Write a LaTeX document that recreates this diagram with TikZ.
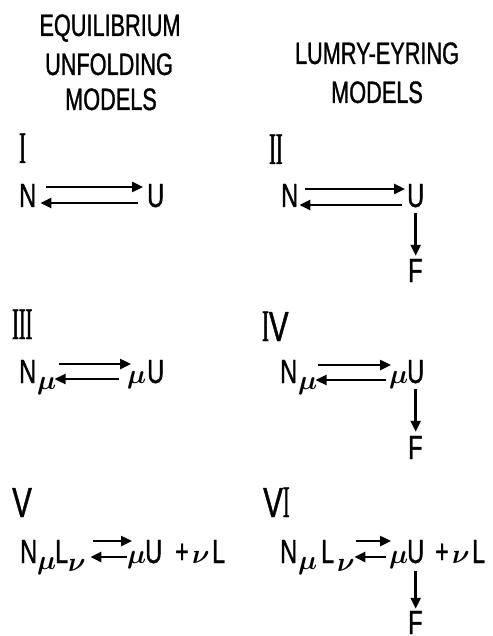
\documentclass[tikz,border=0pt]{standalone}
\usepackage{fontspec}
\usepackage{unicode-math}
\newfontfamily\pf[FakeStretch=0.7,FakeBold=1]{Liberation Sans}
\newfontfamily\rf[FakeStretch=0.45,FakeBold=1]{Liberation Serif}
\usetikzlibrary{arrows.meta,calc}
\newcommand{\numV}{{\pf\fontsize{42}{48}\selectfont V}}
\newcommand{\numI}{{\rf I}}
\newcommand{\gmu}{$\symbfit{\mu}$}
\newcommand{\gnu}{$\symbfit{\nu}$}
\begin{document}
\begin{tikzpicture}[x=1pt,y=-1pt,
  title/.style={inner sep=0, anchor=base, font=\pf\fontsize{31}{36}\selectfont},
  lab/.style={inner sep=0, anchor=base west, font=\pf\fontsize{33.5}{40}\selectfont},
  num/.style={inner sep=0, anchor=base west, font=\rf\fontsize{45}{50}\selectfont},
  grk/.style={inner sep=0, anchor=base west, font=\fontsize{27}{32}\selectfont},
  arr/.style={line width=2.4pt, -{Triangle[length=11pt,width=10pt]}}]
\useasboundingbox (0,0) rectangle (492,636);
\fill[white] (0,0) rectangle (492,636);

% titles
\node[title] (t1) at (110,36) {EQUILIBRIUM};
\node[title] (t2) at (109,75) {UNFOLDING};
\node[title] (t3) at (111,110) {MODELS};
\node[title] (t4) at (377,64) {LUMRY-EYRING};
\node[title] (t5) at (377,103) {MODELS};

% I
\node[num] (n1) at (19,163) {\numI};
\node[lab] (N1) at (19,207) {N};
\node[lab] (U1) at (147,207) {U};
\draw[arr] ($(N1.base east)+(10,-20)$) -- ($(U1.base west)+(-4,-20)$);
\draw[arr] ($(U1.base west)+(-9,-4)$) -- ($(N1.base east)+(4,-4)$);

% II
\node[num] (n2) at (269,164) {\numI\numI};
\node[lab] (N2) at (281,207) {N};
\node[lab] (U2) at (407,207) {U};
\node[lab] (F2) at (408,282) {F};
\draw[arr] ($(N2.base east)+(7,-18)$) -- ($(U2.base west)+(-2,-18)$);
\draw[arr] ($(U2.base west)+(-5,-2)$) -- ($(N2.base east)+(1,-2)$);
\draw[arr] ($(U2.south)+(0,5)$) -- ($(U2.south |- F2.north)+(0,-3)$);

% III
\node[num] (n3) at (12,339) {\numI\numI\numI};
\node[lab] (N3) at (19,383) {N};
\node[grk] (m3) at (37,389) {\gmu};
\node[grk] (m3b) at (127,383) {\gmu};
\node[lab] (U3) at (147,383) {U};
\draw[arr] ($(m3.east |- N3.base)+(2,-19)$) -- ($(m3b.west |- N3.base)+(4,-19)$);
\draw[arr] ($(m3b.west |- N3.base)+(-8,-4)$) -- ($(m3.east |- N3.base)+(-2,-4)$);

% IV
\node[num] (n4) at (262,341) {\numI\numV};
\node[lab] (N4) at (280,383) {N};
\node[grk] (m4) at (298,389) {\gmu};
\node[grk] (m4b) at (389,383) {\gmu};
\node[lab] (U4) at (407,383) {U};
\node[lab] (F4) at (408,459) {F};
\draw[arr] ($(m4.east |- N4.base)+(0,-18)$) -- ($(m4b.west |- N4.base)+(2,-18)$);
\draw[arr] ($(m4b.west |- N4.base)+(-3,-3)$) -- ($(m4.east |- N4.base)+(-2,-3)$);
\draw[arr] ($(U4.south)+(0,5)$) -- ($(U4.south |- F4.north)+(0,-4)$);

% V
\node[num] (n5) at (12,517) {\numV};
\node[lab] (N5) at (20,563) {N};
\node[grk] (m5) at (37,569) {\gmu};
\node[lab] (L5) at (55,563) {L};
\node[grk] (v5) at (68,571) {\gnu};
\node[grk] (m5b) at (127,563) {\gmu};
\node[lab] (U5) at (145,563) {U};
\node[lab] (p5) at (175,563) {+};
\node[grk] (v5b) at (192,563) {\gnu};
\node[lab] (L5b) at (212,563) {L};
\draw[arr] ($(v5.east |- N5.base)+(8,-22)$) -- ($(m5b.west |- N5.base)+(5,-22)$);
\draw[arr] ($(m5b.west |- N5.base)+(0,-6)$) -- ($(v5.east |- N5.base)+(5,-6)$);

% VI
\node[num] (n6) at (263,517) {\numV\numI};
\node[lab] (N6) at (280,563) {N};
\node[grk] (m6) at (298,569) {\gmu};
\node[lab] (L6) at (321,563) {L};
\node[grk] (v6) at (337,571) {\gnu};
\node[grk] (m6b) at (389,563) {\gmu};
\node[lab] (U6) at (407,563) {U};
\node[lab] (p6) at (435,563) {+};
\node[grk] (v6b) at (452,563) {\gnu};
\node[lab] (L6b) at (472,563) {L};
\node[lab] (F6) at (408,634) {F};
\draw[arr] ($(v6.east |- N6.base)+(2,-22)$) -- ($(m6b.west |- N6.base)+(2,-22)$);
\draw[arr] ($(m6b.west |- N6.base)+(-3,-6)$) -- ($(v6.east |- N6.base)+(0,-6)$);
\draw[arr] ($(U6.south)+(0,7)$) -- ($(U6.south |- F6.north)+(0,-2)$);
\end{tikzpicture}
\end{document}
